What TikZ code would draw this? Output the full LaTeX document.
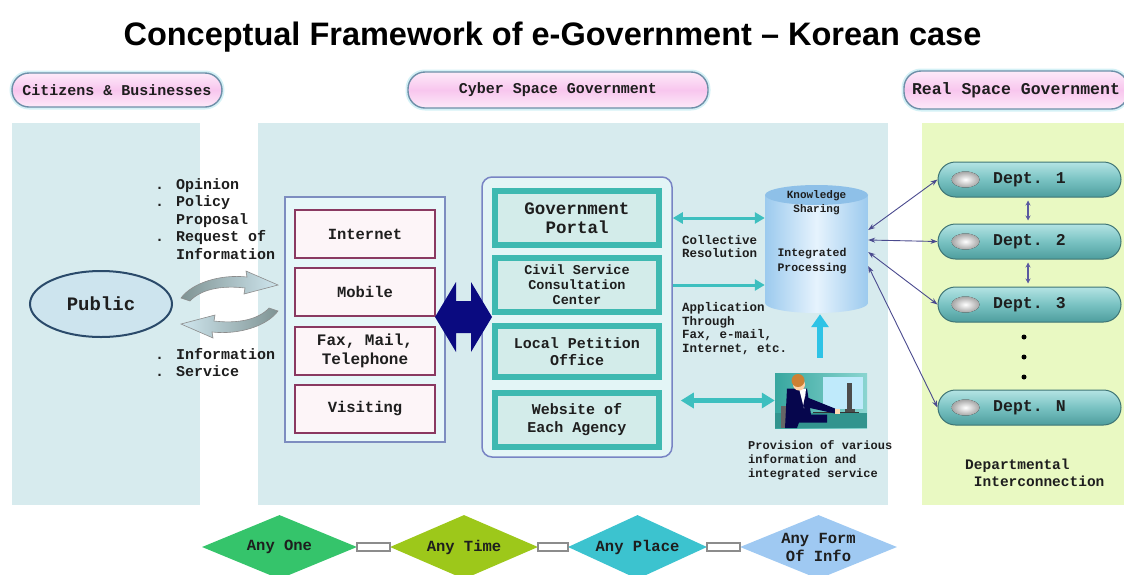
\documentclass[tikz,border=0pt]{standalone}
\usepackage{fontspec}
\setmainfont{Liberation Sans}
\newfontfamily\gul{Liberation Mono}
\usetikzlibrary{shapes.geometric,arrows.meta,calc}

\definecolor{ink}{HTML}{1E1E1E}
\definecolor{panelC}{HTML}{D7EBEE}
\definecolor{realC}{HTML}{E9F9C2}
\definecolor{pillA}{HTML}{FDEAF9}
\definecolor{pillB}{HTML}{F8C6EE}
\definecolor{pillline}{HTML}{6E8FA8}
\definecolor{pillglow}{HTML}{D4F1F6}
\definecolor{chanfillC}{HTML}{E6F7F9}
\definecolor{chanline}{HTML}{7D8DC0}
\definecolor{boxfill}{HTML}{FDF5F8}
\definecolor{boxline}{HTML}{8A3A62}
\definecolor{navyC}{HTML}{0A0A80}
\definecolor{svcfillC}{HTML}{E3F5F6}
\definecolor{svcline}{HTML}{7884C4}
\definecolor{band}{HTML}{3EB9B1}
\definecolor{bandfill}{HTML}{D3ECEA}
\definecolor{tealA}{HTML}{3DBFBF}
\definecolor{cylE}{HTML}{9CCAEE}
\definecolor{cylM}{HTML}{E6F3FD}
\definecolor{cylTop}{HTML}{8EC0E8}
\definecolor{upC}{HTML}{2EC3E6}
\definecolor{deptT}{HTML}{B4E4E4}
\definecolor{deptM}{HTML}{79C2C2}
\definecolor{deptB}{HTML}{4E9E9E}
\definecolor{deptline}{HTML}{3E7474}
\definecolor{deptarrow}{HTML}{5A5AA0}
\definecolor{linkC}{HTML}{4A4A8E}
\definecolor{pubfill}{HTML}{CDE4EE}
\definecolor{publine}{HTML}{2A4A6A}
\definecolor{arrG}{HTML}{7F9393}
\definecolor{arrL}{HTML}{CFE6EE}
\definecolor{dA}{HTML}{35C46B}
\definecolor{dB}{HTML}{9DC81A}
\definecolor{dC}{HTML}{3CC3CF}
\definecolor{dD}{HTML}{9FC9F2}

\tikzset{
  gt/.style 2 args={font=\gul\bfseries\fontsize{#1}{#2}\selectfont, text=ink, inner sep=0pt},
  pill/.style={rounded corners=17pt, draw=pillline, line width=1.4pt,
    top color=pillA, bottom color=pillA, middle color=pillB,
    preaction={draw=pillglow, line width=5pt}, gt={15}{17}},
  chanbox/.style={draw=boxline, line width=2pt, fill=boxfill,
    minimum width=140pt, minimum height=48pt, align=center},
  svcbox/.style={draw=band, line width=6pt, fill=bandfill,
    minimum width=164pt, minimum height=54pt, align=center},
  dept/.style={rounded corners=17.5pt, minimum width=183pt, minimum height=35pt,
    draw=deptline, line width=1pt, top color=deptT, bottom color=deptB,
    middle color=deptM, gt={16.5}{18}},
  ball/.style={inner color=white, outer color=black!35},
  diam/.style={diamond, aspect=2.4, minimum height=64pt, inner sep=0pt, gt={15.5}{18}, align=center},
  bar/.style={fill=white, draw=black!45, line width=1.5pt},
  tealarrow/.style={draw=tealA, line width=3pt},
  link/.style={draw=linkC, line width=0.9pt,
    {Stealth[length=7pt,width=5pt]}-{Stealth[length=7pt,width=5pt]}},
  deptlink/.style={draw=deptarrow, line width=1.5pt,
    {Stealth[length=5pt,width=5pt]}-{Stealth[length=5pt,width=5pt]}},
}

\begin{document}
\begin{tikzpicture}[x=1pt,y=-1pt]
\useasboundingbox (0,0) rectangle (1124,574);

% title
\node[anchor=base, font=\fontsize{32.5}{38}\selectfont\bfseries, inner sep=0] (title)
  at (552.5,45) {Conceptual Framework of e-Government – Korean case};

% three background panels
\fill[panelC] (12,123) rectangle (200,505);
\fill[panelC] (258,123) rectangle (888,505);
\fill[realC] (922,123) rectangle (1124,505);

% section headings
\node[pill, minimum width=210pt, minimum height=34pt] (cb) at (117,90) {Citizens \& Businesses};
\node[pill, minimum width=300pt, minimum height=36pt] (cyber) at (558,90) {Cyber Space Government};
\node[pill, minimum width=224pt, minimum height=38pt, gt={16.5}{18}] (real) at (1016,90) {Real Space Government};

% public side
\node[ellipse, draw=publine, line width=2pt, fill=pubfill, minimum width=142pt,
  minimum height=66pt, gt={19}{20}] (public) at (101,304) {Public};

\node[gt={15}{17.5}, anchor=north west, align=left] (requests) at (155,178)
  {. Opinion\\. Policy\\\phantom{. }Proposal\\. Request of\\\phantom{. }Information};
\node[gt={15}{17}, anchor=north west, align=left] (answers) at (155,348)
  {. Information\\. Service};

% exchange arrows next to the public
\path[left color=arrG, right color=arrL, draw=black!45, line width=0.6pt]
  (181,298) .. controls (192,283) and (220,274) .. (247,277) -- (246,271) -- (278,285)
  -- (244,294) -- (245,288) .. controls (220,285) and (200,290) .. (190,301) -- cycle;
\path[left color=arrL, right color=arrG, draw=black!45, line width=0.6pt]
  (278,311) .. controls (267,326) and (239,335) .. (212,332) -- (213,338) -- (181,324)
  -- (215,315) -- (214,321) .. controls (239,324) and (259,319) .. (269,308) -- cycle;

% access channels
\node[draw=chanline, line width=1.5pt, fill=chanfillC, minimum width=160pt,
  minimum height=245pt, inner sep=0] (channels) at (365,319.5) {};
\node[chanbox, gt={15.5}{17}] (internet) at (365,234) {Internet};
\node[chanbox, gt={15.5}{17}] (mobile) at (365,291.5) {Mobile};
\node[chanbox, gt={16}{19}] (fax) at (365,351) {Fax, Mail,\\Telephone};
\node[chanbox, gt={15.5}{17}] (visiting) at (365,409) {Visiting};

% service points
\node[draw=svcline, line width=1.5pt, fill=svcfillC, rounded corners=10pt,
  minimum width=190pt, minimum height=280pt, inner sep=0] (services) at (577,317) {};
\node[svcbox, gt={17.5}{19.5}] (portal) at (577,218) {Government\\Portal};
\node[svcbox, gt={13.5}{15}] (civil) at (577,285) {Civil Service\\Consultation\\Center};
\node[svcbox, minimum height=51pt, gt={15}{17}] (petition) at (577,351.5) {Local Petition\\Office};
\node[svcbox, gt={15}{18}] (website) at (577,420) {Website of\\Each Agency};

% two-way link between channels and service points
\fill[navyC] (435,317) -- (456,282) -- (456,301) -- (471,301) -- (471,282) -- (492,317)
  -- (471,352) -- (471,333) -- (456,333) -- (456,352) -- cycle;

% integrated processing store
\node[minimum width=103pt, minimum height=128pt, inner sep=0] (cyl) at (816.5,249) {};
\path[left color=cylE, right color=cylE, middle color=cylM]
  (765,195) -- (765,303) arc[start angle=180, end angle=0, x radius=51.5, y radius=10]
  -- (868,195) -- cycle;
\fill[cylTop] (816.5,195) ellipse [x radius=51.5, y radius=10];
\node[gt={11}{14}, align=center] (ks) at (816.5,203) {Knowledge\\Sharing};
\node[gt={11.5}{15}, align=center] (ip) at (812,261) {Integrated\\Processing};

% connections into the store
\draw[tealarrow, {Triangle[width=11pt,length=10pt]}-{Triangle[width=11pt,length=10pt]}]
  (services.east |- portal.east) -- (cyl.west |- portal.east);
\draw[tealarrow, -{Triangle[width=11pt,length=10pt]}]
  (services.east |- civil.east) -- (cyl.west |- civil.east);
\node[gt={12.5}{13.5}, anchor=north west, align=left] (collective) at (682,235)
  {Collective\\Resolution};
\node[gt={12.5}{13.8}, anchor=north west, align=left] (application) at (682,302)
  {Application\\Through\\Fax, e-mail,\\Internet, etc.};

% service worker
\node[minimum width=92pt, minimum height=55pt, inner sep=0] (person) at (821,400.5) {};
\begin{scope}[shift={(person.center)}]
  \path[left color=band!90!black, right color=band!60!white] (-46,-27.5) rectangle (46,27.5);
  \fill[cyan!25!white] (2,-24) rectangle (42,8);
  \fill[band!80!black] (-46,12) rectangle (46,27.5);
  \fill[black!70] (26,-18) rectangle (31,8);
  \fill[black!70] (24,8) rectangle (34,11);
  \draw[black!80, line width=1.5pt] (-8,12) -- (38,12);
  \fill[black!60] (-40,5) rectangle (-34,27);
  \fill[navyC!60!black] (-34,-12) -- (-14,-12) -- (-10,14) -- (6,14) -- (6,22)
    -- (-22,22) -- (-24,27.5) -- (-36,27.5) -- cycle;
  \fill[white] (-22,-12) -- (-15,-12) -- (-17,8) -- cycle;
  \fill[navyC!60!black] (-16,-4) -- (14,8) -- (14,13) -- (-18,6) -- cycle;
  \fill[orange!30!white] (14,8) rectangle (19,13);
  \fill[orange!35!white] (-22,-16) circle (6);
  \fill[brown!80!orange] (-23,-20) circle (6.5);
\end{scope}
\draw[tealarrow, line width=5pt, {Triangle[width=15pt,length=13pt]}-{Triangle[width=15pt,length=13pt]}]
  ($(services.east |- person.west)+(8,0)$) -- (person.west);
\draw[upC, line width=6pt, -{Triangle[width=17pt,length=13pt]}]
  ($(person.north)+(-1,-15)$) -- ($(cyl.south)+(3.5,1)$);
\node[gt={12}{14}, anchor=north west, align=left] (provision) at (748,440)
  {Provision of various\\information and\\integrated service};

% departments
\node[dept] (d1) at (1029.5,179.5) {Dept. 1};
\node[dept] (d2) at (1029.5,241.5) {Dept. 2};
\node[dept] (d3) at (1029.5,304.5) {Dept. 3};
\node[dept] (dn) at (1029.5,407.5) {Dept. N};
\foreach \d in {d1,d2,d3,dn}
  \fill[ball] ($(\d.west)+(28,0)$) ellipse [x radius=14, y radius=8];
\draw[deptlink] ($(d1.south)+(-1.5,3)$) -- ($(d2.north)+(-1.5,-3)$);
\draw[deptlink] ($(d2.south)+(-1.5,3)$) -- ($(d3.north)+(-1.5,-3)$);
\foreach \y in {337,357,377}
  \fill[black] (1024,\y) circle (2.5);
\node[gt={14.5}{17}, anchor=north west, align=left] (interconn) at (965,459)
  {Departmental\\\phantom{ }Interconnection};

\draw[link] ($(cyl.east)+(0,-19)$) -- (d1.west);
\draw[link] ($(cyl.east)+(0,-9)$) -- (d2.west);
\draw[link] ($(cyl.east)+(0,3)$) -- (d3.west);
\draw[link] ($(cyl.east)+(0,17)$) -- (dn.west);

% principles along the bottom
\node[diam, fill=dA, minimum width=155pt] (anyone) at (279.5,547) {Any One};
\node[diam, fill=dB, minimum width=148pt] (anytime) at (464,547) {Any Time};
\node[diam, fill=dC, minimum width=139pt] (anyplace) at (637.5,547) {Any Place};
\node[diam, fill=dD, minimum width=157pt] (anyform) at (818.5,547) {Any Form\\Of Info};
\draw[bar] ($(anyone.east)+(0,-4)$) rectangle ($(anytime.west)+(0,4)$);
\draw[bar] ($(anytime.east)+(0,-4)$) rectangle ($(anyplace.west)+(0,4)$);
\draw[bar] ($(anyplace.east)+(0,-4)$) rectangle ($(anyform.west)+(0,4)$);
\end{tikzpicture}
\end{document}
